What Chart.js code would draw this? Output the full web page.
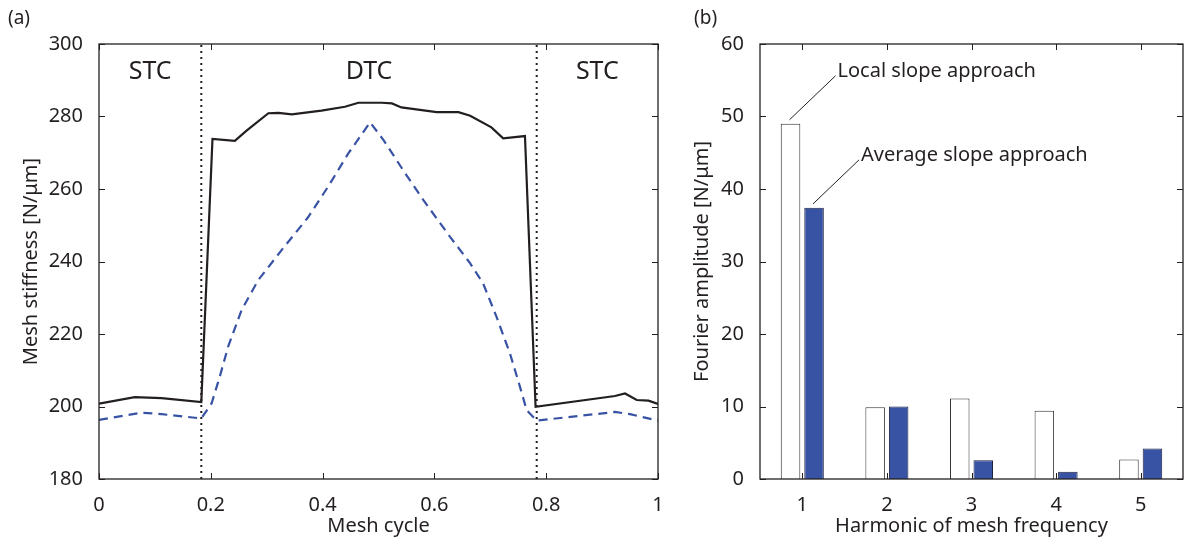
<!DOCTYPE html>
<html>
<head>
<meta charset="utf-8">
<script src="https://cdn.jsdelivr.net/npm/chart.js@4/dist/chart.umd.min.js"></script>
<style>
  body { margin: 0; background: #fff; }
  #wrap { position: relative; width: 1192px; height: 544px; font-family: 'Noto Sans', sans-serif; color: #231f20; }
  canvas { position: absolute; top: 0; }
  .panel { position: absolute; top: 4px; font-size: 19px; }
</style>
</head>
<body>
<div id="wrap">
  <canvas id="stiffChart" width="680" height="544" style="left:0"></canvas>
  <canvas id="ampChart" width="512" height="544" style="left:680px"></canvas>
  <div class="panel" style="left:8px">(a)</div>
  <div class="panel" style="left:694px">(b)</div>
</div>
<script>
// (a) mesh stiffness over one mesh cycle
const localCycle = [0, 0.064, 0.112, 0.183, 0.203, 0.243, 0.264, 0.303, 0.321, 0.345, 0.398, 0.44, 0.464, 0.506, 0.524, 0.541, 0.604, 0.643, 0.664, 0.702, 0.723, 0.762, 0.781, 0.923, 0.941, 0.962, 0.983, 1.0];
const localStiffness = [200.8, 202.6, 202.3, 201.2, 273.8, 273.3, 276.1, 280.9, 281.0, 280.6, 281.6, 282.7, 283.8, 283.8, 283.6, 282.5, 281.2, 281.2, 280.2, 277.0, 274.0, 274.6, 199.9, 202.9, 203.6, 201.8, 201.6, 200.7];
const avgCycle = [0, 0.076, 0.112, 0.183, 0.2015, 0.216, 0.231, 0.255, 0.285, 0.327, 0.374, 0.41, 0.446, 0.485, 0.509, 0.544, 0.58, 0.628, 0.664, 0.687, 0.711, 0.735, 0.753, 0.765, 0.783, 0.923, 0.95, 1.0];
const avgStiffness = [196.3, 198.3, 197.9, 196.7, 200.9, 208.2, 216.5, 226.6, 234.9, 243.2, 252.2, 260.7, 269.8, 278.4, 273.5, 265.2, 257.0, 246.8, 239.5, 234.0, 224.8, 214.7, 205.5, 199.0, 196.1, 198.5, 197.9, 196.1];
const boundaries = [0.183, 0.783];
const regionNames = ["STC", "DTC", "STC"];

// (b) Fourier amplitudes
const harmonics = ["1", "2", "3", "4", "5"];
const localAmp = [49.0, 9.9, 11.1, 9.4, 2.7];
const avgAmp = [37.4, 10.0, 2.6, 1.0, 4.2];

const INK = "#231f20";
const BLUE = "#3953a4";

Chart.defaults.font.family = "'Noto Sans', sans-serif";
Chart.defaults.font.size = 20;
Chart.defaults.color = INK;
Chart.defaults.animation = false;
Chart.defaults.plugins.legend.display = false;
Chart.defaults.plugins.tooltip.enabled = false;

const zip = (xs, ys) => xs.map((x, i) => ({ x, y: ys[i] }));

// matlab style box with inward ticks
const boxTicks = {
  id: "boxTicks",
  afterDatasetsDraw(chart) {
    const { ctx, chartArea: a, scales } = chart;
    const len = 6;
    ctx.save();
    ctx.strokeStyle = INK;
    ctx.lineWidth = 1.3;
    ctx.strokeRect(a.left, a.top, a.width, a.height);
    ctx.lineWidth = 1;
    ctx.beginPath();
    scales.x.ticks.forEach((t, i) => {
      const px = Math.round(scales.x.getPixelForTick(i)) + 0.5;
      ctx.moveTo(px, a.bottom); ctx.lineTo(px, a.bottom - len);
      ctx.moveTo(px, a.top); ctx.lineTo(px, a.top + len);
    });
    scales.y.ticks.forEach((t, i) => {
      const py = Math.round(scales.y.getPixelForTick(i)) + 0.5;
      ctx.moveTo(a.left, py); ctx.lineTo(a.left + len, py);
      ctx.moveTo(a.right, py); ctx.lineTo(a.right - len, py);
    });
    ctx.stroke();
    ctx.restore();
  }
};

const regionLabels = {
  id: "regionLabels",
  afterDatasetsDraw(chart) {
    const { ctx, scales } = chart;
    const edges = [scales.x.min, ...boundaries, scales.x.max];
    ctx.save();
    ctx.font = "25px 'Noto Sans', sans-serif";
    ctx.fillStyle = INK;
    ctx.textAlign = "center";
    ctx.textBaseline = "middle";
    regionNames.forEach((name, i) => {
      const mid = (edges[i] + edges[i + 1]) / 2;
      ctx.fillText(name, scales.x.getPixelForValue(mid), scales.y.getPixelForValue(292.3));
    });
    ctx.restore();
  }
};

const barNotes = {
  id: "barNotes",
  afterDatasetsDraw(chart) {
    const { ctx } = chart;
    ctx.save();
    ctx.strokeStyle = INK;
    ctx.fillStyle = INK;
    ctx.lineWidth = 1;
    ctx.font = "20px 'Noto Sans', sans-serif";
    ctx.textBaseline = "alphabetic";
    chart.data.datasets.forEach((ds, i) => {
      const bar = chart.getDatasetMeta(i).data[0];
      const sx = bar.x - 1, sy = bar.y - 4;
      const ex = sx + 46, ey = sy - 44;
      ctx.beginPath();
      ctx.moveTo(sx, sy);
      ctx.lineTo(ex, ey);
      ctx.stroke();
      ctx.fillText(ds.label, ex + 2, ey + 1);
    });
    ctx.restore();
  }
};

const fixW = w => s => { s.width = w; };
const fixH = h => s => { s.height = h; };

new Chart(document.getElementById("stiffChart"), {
  type: "line",
  data: {
    datasets: [
      ...boundaries.map(b => ({
        data: [{ x: b, y: 180 }, { x: b, y: 300 }],
        borderColor: INK,
        borderWidth: 2,
        borderDash: [2, 4],
        pointRadius: 0
      })),
      {
        label: "Local slope approach",
        data: zip(localCycle, localStiffness),
        borderColor: INK,
        borderWidth: 2.2,
        pointRadius: 0,
        tension: 0
      },
      {
        label: "Average slope approach",
        data: zip(avgCycle, avgStiffness),
        borderColor: BLUE,
        borderWidth: 2.2,
        borderDash: [9, 6],
        pointRadius: 0,
        tension: 0
      }
    ]
  },
  options: {
    responsive: false,
    layout: { padding: { top: 44, right: 22, left: 0, bottom: 0 } },
    scales: {
      x: {
        type: "linear",
        min: 0,
        max: 1,
        grid: { display: false },
        border: { display: false },
        ticks: { stepSize: 0.2, padding: 6, maxRotation: 0, callback: v => String(Math.round(v * 10) / 10) },
        title: { display: true, text: "Mesh cycle", padding: { bottom: 6 } },
        afterFit: fixH(65)
      },
      y: {
        min: 180,
        max: 300,
        grid: { display: false },
        border: { display: false },
        ticks: { stepSize: 20, padding: 8 },
        title: { display: true, text: "Mesh stiffness [N/μm]", padding: { top: 19 } },
        afterFit: fixW(99)
      }
    }
  },
  plugins: [boxTicks, regionLabels]
});

new Chart(document.getElementById("ampChart"), {
  type: "bar",
  data: {
    labels: harmonics,
    datasets: [
      {
        label: "Local slope approach",
        data: localAmp,
        backgroundColor: "#ffffff",
        borderColor: "#333333",
        borderWidth: 1
      },
      {
        label: "Average slope approach",
        data: avgAmp,
        backgroundColor: BLUE,
        borderColor: "#1c2240",
        borderWidth: 1
      }
    ]
  },
  options: {
    responsive: false,
    layout: { padding: { top: 44, right: 9, left: 0, bottom: 0 } },
    categoryPercentage: 0.556,
    barPercentage: 0.83,
    scales: {
      x: {
        grid: { display: false },
        border: { display: false },
        ticks: { padding: 6 },
        title: { display: true, text: "Harmonic of mesh frequency", padding: { bottom: 6 } },
        afterFit: fixH(65)
      },
      y: {
        min: 0,
        max: 60,
        grid: { display: false },
        border: { display: false },
        ticks: { stepSize: 10, padding: 8 },
        title: { display: true, text: "Fourier amplitude [N/μm]", padding: { top: 10 } },
        afterFit: fixW(80)
      }
    }
  },
  plugins: [boxTicks, barNotes]
});
</script>
</body>
</html>
